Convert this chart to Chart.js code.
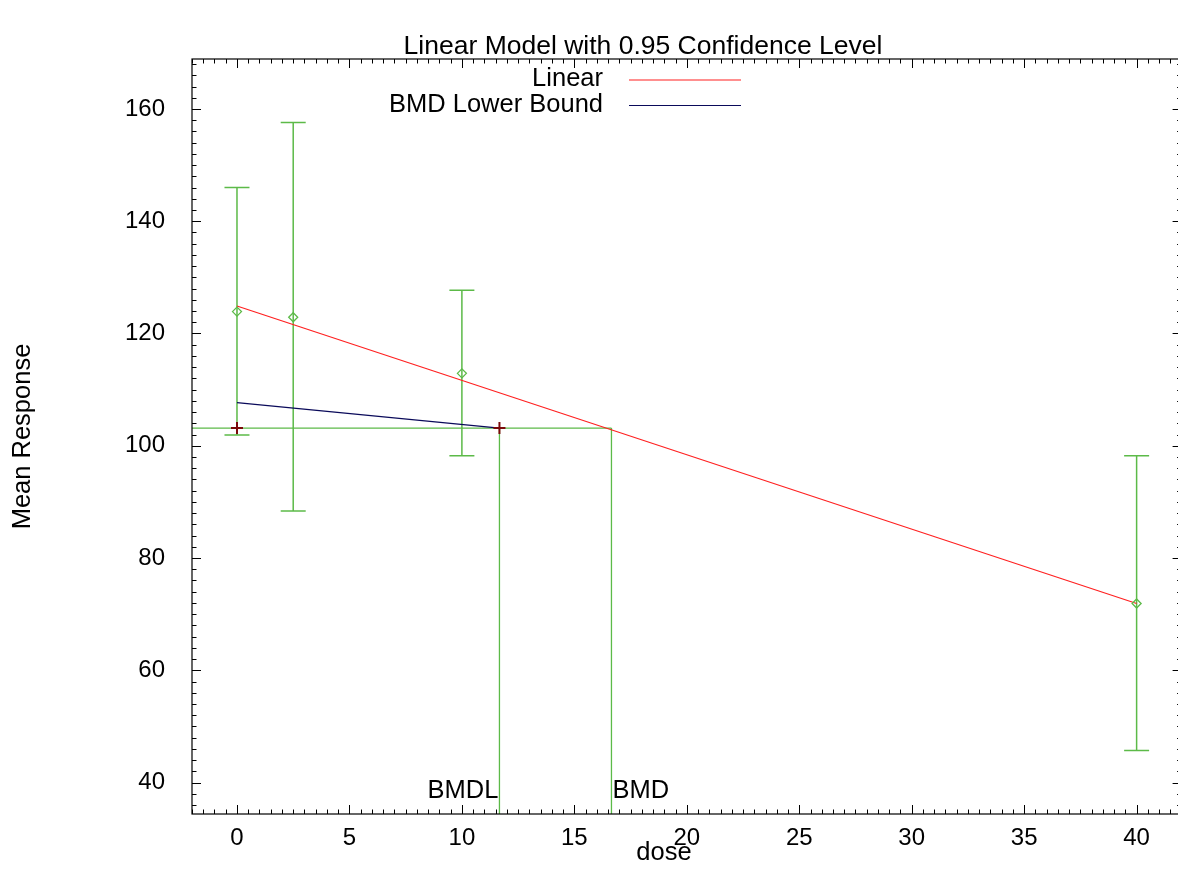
<!DOCTYPE html>
<html><head><meta charset="utf-8">
<script src="https://cdn.jsdelivr.net/npm/chart.js@4/dist/chart.umd.min.js"></script>
<style>
html,body{margin:0;padding:0;background:#fff;overflow:hidden;width:1178px;height:892px}
#wrap{position:absolute;left:0;top:0;width:1200px;height:892px}
</style>
</head><body><div id="wrap"><canvas id="c" width="1200" height="892"></canvas></div>
<script>
// ---- data ----
const doses = [0, 2.5, 10, 40];
const means = [123.9, 122.9, 112.9, 71.9];
const lowerCI = [101.9, 88.4, 98.2, 45.7];
const upperCI = [146.0, 157.6, 127.7, 98.2];
const linearDose = [0, 40];
const linearResp = [124.9, 71.9];
const lowerBoundDose = [0, 11.67];
const lowerBoundResp = [107.7, 103.15];
const bmr = 103.15;
const bmd = 16.65;
const bmdl = 11.67;
const xTicks = [0, 5, 10, 15, 20, 25, 30, 35, 40];
const yTicks = [40, 60, 80, 100, 120, 140, 160];
const xRange = [-2, 42];
const yRange = [34.4, 168.9];
const titleText = 'Linear Model with 0.95 Confidence Level';
const xTitle = 'dose';
const yTitle = 'Mean Response';

const FONT = '"Liberation Sans", Arial, Helvetica, sans-serif';
const LABEL_FONT = '25.5px ' + FONT;
const TITLE_FONT = '26.5px ' + FONT;
const GREEN = '#5cba48';
const RED = '#ff2020';
const NAVY = '#0a0a5a';
const DARKRED = '#7a0a0a';

Chart.defaults.font.family = FONT;
Chart.defaults.font.size = 24;
Chart.defaults.color = '#000';

const pts = (xs, ys) => xs.map((x, i) => ({x, y: ys[i]}));

const framePlugin = {
  id: 'frame',
  beforeDatasetsDraw(chart) {
    const {ctx, scales: {x, y}} = chart;
    ctx.save();
    ctx.strokeStyle = GREEN;
    ctx.lineWidth = 1.5;
    const cap = 12.5;
    doses.forEach((d, i) => {
      const px = x.getPixelForValue(d);
      const lo = y.getPixelForValue(lowerCI[i]);
      const hi = y.getPixelForValue(upperCI[i]);
      ctx.beginPath();
      ctx.moveTo(px, lo); ctx.lineTo(px, hi);
      ctx.moveTo(px - cap, lo); ctx.lineTo(px + cap, lo);
      ctx.moveTo(px - cap, hi); ctx.lineTo(px + cap, hi);
      ctx.stroke();
    });
    ctx.restore();
  },
  afterDraw(chart) {
    const {ctx, chartArea: a, scales: {x, y}} = chart;
    ctx.save();
    // frame
    ctx.strokeStyle = '#000';
    ctx.lineWidth = 1.2;
    ctx.strokeRect(a.left, a.top, a.right - a.left, a.bottom - a.top);
    // ticks (inward, mirrored)
    ctx.lineWidth = 1;
    ctx.beginPath();
    for (let v = Math.ceil(x.min * 2) / 2; v <= x.max + 1e-9; v += 0.5) {
      const major = xTicks.includes(v);
      const len = major ? 9 : 4.5;
      const px = Math.round(x.getPixelForValue(v)) + 0.5;
      ctx.moveTo(px, a.bottom); ctx.lineTo(px, a.bottom - len);
      ctx.moveTo(px, a.top); ctx.lineTo(px, a.top + len);
    }
    for (let v = Math.ceil(y.min / 2) * 2; v <= y.max + 1e-9; v += 2) {
      const major = yTicks.includes(v);
      const len = major ? 9 : 4.5;
      const py = Math.round(y.getPixelForValue(v)) + 0.5;
      ctx.moveTo(a.left, py); ctx.lineTo(a.left + len, py);
      ctx.moveTo(a.right, py); ctx.lineTo(a.right - len, py);
    }
    ctx.stroke();
    ctx.fillStyle = '#000';
    ctx.textBaseline = 'middle';
    // title and axis titles
    ctx.textAlign = 'center';
    ctx.font = TITLE_FONT;
    ctx.fillText(titleText, 643, 47);
    ctx.font = LABEL_FONT;
    ctx.fillText(xTitle, 664, 853);
    ctx.save();
    ctx.translate(23, 436.5);
    ctx.rotate(-Math.PI / 2);
    ctx.fillText(yTitle, 0, 0);
    ctx.restore();
    // BMD / BMDL labels
    ctx.textAlign = 'right';
    ctx.fillText('BMDL', x.getPixelForValue(bmdl) - 1, 791);
    ctx.textAlign = 'left';
    ctx.fillText('BMD', x.getPixelForValue(bmd) + 1, 791);
    // legend
    const entries = chart.data.datasets.filter(d => d.legend);
    entries.forEach((d, i) => {
      const ly = 79 + i * 25.5;
      ctx.textAlign = 'right';
      ctx.fillStyle = '#000';
      ctx.fillText(d.label, 603, ly);
      ctx.strokeStyle = d.borderColor;
      ctx.lineWidth = 1.2;
      ctx.beginPath();
      ctx.moveTo(629, ly + 1); ctx.lineTo(741, ly + 1);
      ctx.stroke();
    });
    ctx.restore();
  }
};

new Chart(document.getElementById('c'), {
  type: 'scatter',
  data: {
    datasets: [
      { label: 'BMD marks', data: [{x: 0, y: bmr}, {x: bmdl, y: bmr}], pointStyle: 'cross',
        pointRadius: 6, borderColor: DARKRED, backgroundColor: DARKRED, pointBorderWidth: 2, order: 0 },
      { label: 'Means', data: pts(doses, means), pointStyle: 'rectRot', pointRadius: 4.5,
        borderColor: GREEN, backgroundColor: 'rgba(0,0,0,0)', pointBorderWidth: 1.3, order: 1 },
      { label: 'Linear', legend: true, data: pts(linearDose, linearResp), showLine: true,
        borderColor: RED, borderWidth: 1.2, pointRadius: 0, order: 2 },
      { label: 'BMD Lower Bound', legend: true, data: pts(lowerBoundDose, lowerBoundResp), showLine: true,
        borderColor: NAVY, borderWidth: 1.2, pointRadius: 0, order: 3 },
      { label: 'BMR', data: [{x: xRange[0], y: bmr}, {x: bmd, y: bmr}], showLine: true,
        borderColor: GREEN, borderWidth: 1.3, pointRadius: 0, order: 4 },
      { label: 'BMDL line', data: [{x: bmdl, y: bmr}, {x: bmdl, y: yRange[0]}], showLine: true,
        borderColor: GREEN, borderWidth: 1.3, pointRadius: 0, order: 5 },
      { label: 'BMD line', data: [{x: bmd, y: bmr}, {x: bmd, y: yRange[0]}], showLine: true,
        borderColor: GREEN, borderWidth: 1.3, pointRadius: 0, order: 6 }
    ]
  },
  options: {
    responsive: false,
    animation: false,
    layout: { padding: { left: 0, top: 59, right: 18.4, bottom: 0 } },
    plugins: {
      legend: { display: false },
      tooltip: { enabled: false },
      title: { display: false }
    },
    scales: {
      x: {
        type: 'linear', position: 'bottom', min: xRange[0], max: xRange[1],
        grid: { display: false, drawTicks: false }, border: { display: false },
        ticks: { padding: 10, autoSkip: false, maxRotation: 0, color: '#000', font: { size: 24 } },
        title: { display: false },
        afterBuildTicks: s => { s.ticks = xTicks.map(v => ({value: v})); },
        afterFit: s => { s.height = 78; }
      },
      y: {
        type: 'linear', position: 'left', min: yRange[0], max: yRange[1],
        grid: { display: false, drawTicks: false }, border: { display: false },
        ticks: { padding: 27, autoSkip: false, color: '#000', font: { size: 24 } },
        title: { display: false },
        afterBuildTicks: s => { s.ticks = yTicks.map(v => ({value: v})); },
        afterFit: s => { s.width = 192; }
      }
    }
  },
  plugins: [framePlugin]
});
</script>
</body></html>
